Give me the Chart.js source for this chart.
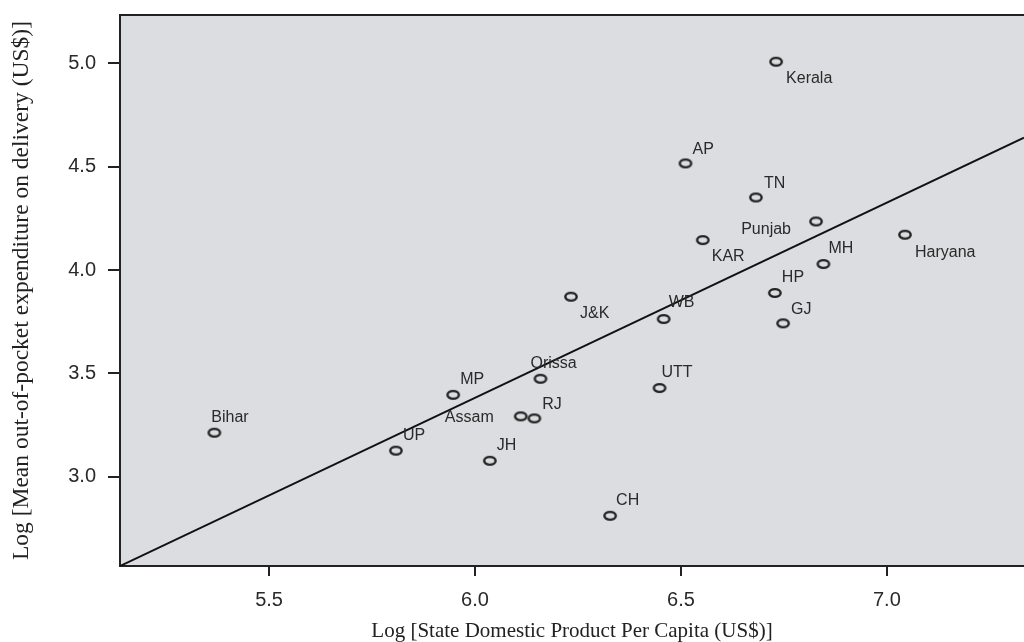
<!DOCTYPE html>
<html>
<head>
<meta charset="utf-8">
<script src="https://cdn.jsdelivr.net/npm/chart.js@4.4.1/dist/chart.umd.min.js"></script>
<style>
  html, body { margin: 0; padding: 0; background: #fff; }
  #wrap { width: 1024px; height: 642px; }
</style>
</head>
<body>
<div id="wrap"><canvas id="chart" width="1024" height="642"></canvas></div>
<script>
// state abbreviations as printed on the chart
const states = ['Kerala', 'AP', 'TN', 'Punjab', 'KAR', 'Haryana', 'MH', 'HP', 'GJ', 'J&K',
    'WB', 'Orissa', 'UTT', 'MP', 'Assam', 'RJ', 'Bihar', 'UP', 'JH', 'CH'];
// log state domestic product per capita
const logSdp = [6.731, 6.511, 6.682, 6.828, 6.553, 7.044, 6.846, 6.728, 6.748, 6.233,
    6.458, 6.159, 6.448, 5.947, 6.111, 6.144, 5.367, 5.808, 6.036, 6.328];
// log mean out-of-pocket expenditure on delivery
const logOop = [5.008, 4.516, 4.351, 4.235, 4.145, 4.171, 4.029, 3.889, 3.742, 3.871,
    3.763, 3.474, 3.429, 3.396, 3.292, 3.282, 3.213, 3.126, 3.077, 2.811];
// fitted line, ends at the axis limits
const fitX = [5.138, 7.333];
const fitY = [2.568, 4.640];

const xTicks = [5.5, 6.0, 6.5, 7.0];
const yTicks = [3.0, 3.5, 4.0, 4.5, 5.0];

const ink = '#222';
const textGrey = '#2a2a2a';

// where each name sits relative to its marker: dx, dy, text align
const labelPos = {
    'Kerala': [10, 17, 'left'], 'AP': [7, -14, 'left'], 'TN': [8, -14, 'left'],
    'Punjab': [-25, 8, 'right'], 'KAR': [9, 17, 'left'], 'Haryana': [10, 18, 'left'],
    'MH': [5, -15, 'left'], 'HP': [7, -15, 'left'], 'GJ': [8, -14, 'left'],
    'J&K': [9, 17, 'left'], 'WB': [5, -16, 'left'], 'Orissa': [-10, -15, 'left'],
    'UTT': [2, -15, 'left'], 'MP': [7, -15, 'left'], 'Assam': [-27, 1, 'right'],
    'RJ': [8, -14, 'left'], 'Bihar': [-3, -15, 'left'], 'UP': [7, -15, 'left'],
    'JH': [7, -15, 'left'], 'CH': [6, -15, 'left']
};

// open ellipse marker
const marker = document.createElement('canvas');
marker.width = 16;
marker.height = 12;
(function () {
    const c = marker.getContext('2d');
    c.lineWidth = 2.4;
    c.strokeStyle = ink;
    c.beginPath();
    c.ellipse(8, 6, 5.7, 3.9, 0, 0, Math.PI * 2);
    c.stroke();
})();

const plotFrame = {
    id: 'plotFrame',
    beforeDraw(chart) {
        const {ctx, chartArea: a} = chart;
        ctx.save();
        ctx.fillStyle = '#dcdde0';
        ctx.fillRect(a.left, a.top, a.right - a.left, a.bottom - a.top);
        ctx.restore();
    },
    afterDraw(chart) {
        const {ctx, chartArea: a} = chart;
        ctx.save();
        ctx.strokeStyle = ink;
        ctx.lineWidth = 2;
        ctx.beginPath();
        ctx.moveTo(a.left - 1, a.top);
        ctx.lineTo(a.right, a.top);
        ctx.stroke();
        ctx.restore();
    }
};

const pointNames = {
    id: 'pointNames',
    afterDatasetsDraw(chart) {
        const {ctx} = chart;
        const meta = chart.getDatasetMeta(1);
        ctx.save();
        ctx.font = '16px "Liberation Sans", Arial, sans-serif';
        ctx.fillStyle = textGrey;
        ctx.textBaseline = 'middle';
        meta.data.forEach((pt, i) => {
            const name = states[i];
            const p = labelPos[name] || [6, -14, 'left'];
            ctx.textAlign = p[2];
            ctx.fillText(name, pt.x + p[0], pt.y + p[1]);
        });
        ctx.restore();
    }
};

new Chart(document.getElementById('chart'), {
    data: {
        datasets: [{
            type: 'line',
            data: fitX.map((x, i) => ({x: x, y: fitY[i]})),
            borderColor: '#111',
            borderWidth: 2,
            pointRadius: 0,
            fill: false,
        }, {
            type: 'scatter',
            data: logSdp.map((x, i) => ({x: x, y: logOop[i]})),
            pointStyle: marker,
            pointRadius: 6,
        }]
    },
    options: {
        responsive: false,
        animation: false,
        layout: { autoPadding: false, padding: { top: 15, right: 0, left: 0, bottom: 0 } },
        plugins: {
            legend: { display: false },
            tooltip: { enabled: false },
        },
        scales: {
            x: {
                type: 'linear',
                min: 5.138,
                max: 7.333,
                afterBuildTicks: (s) => { s.ticks = xTicks.map(v => ({value: v})); },
                afterFit: (s) => {
                    s.height = 76;
                    s.paddingLeft = 0;
                    s.paddingRight = 0;
                },
                border: { display: true, color: ink, width: 2 },
                grid: { drawOnChartArea: false, color: ink, lineWidth: 2, tickLength: 10 },
                ticks: {
                    color: textGrey,
                    padding: 12,
                    maxRotation: 0,
                    font: { family: '"Liberation Sans", Arial, sans-serif', size: 20 },
                    callback: (v) => Number(v).toFixed(1),
                },
                title: {
                    display: true,
                    text: 'Log [State Domestic Product Per Capita (US$)]',
                    color: ink,
                    padding: { top: 0, bottom: 0 },
                    font: { family: '"Liberation Serif", "Times New Roman", serif', size: 21, lineHeight: 1 },
                }
            },
            y: {
                type: 'linear',
                min: 2.568,
                max: 5.234,
                afterBuildTicks: (s) => { s.ticks = yTicks.map(v => ({value: v})); },
                afterFit: (s) => {
                    s.width = 120;
                    s.paddingTop = 0;
                    s.paddingBottom = 0;
                },
                border: { display: true, color: ink, width: 2 },
                grid: { drawOnChartArea: false, color: ink, lineWidth: 2, tickLength: 12 },
                ticks: {
                    color: textGrey,
                    padding: 12,
                    font: { family: '"Liberation Sans", Arial, sans-serif', size: 20 },
                    callback: (v) => Number(v).toFixed(1),
                },
                title: {
                    display: true,
                    text: 'Log [Mean out-of-pocket expenditure on delivery (US$)]',
                    color: ink,
                    padding: { top: 8, bottom: 0 },
                    font: { family: '"Liberation Serif", "Times New Roman", serif', size: 23.5, lineHeight: 1.2 },
                }
            }
        }
    },
    plugins: [plotFrame, pointNames]
});
</script>
</body>
</html>
